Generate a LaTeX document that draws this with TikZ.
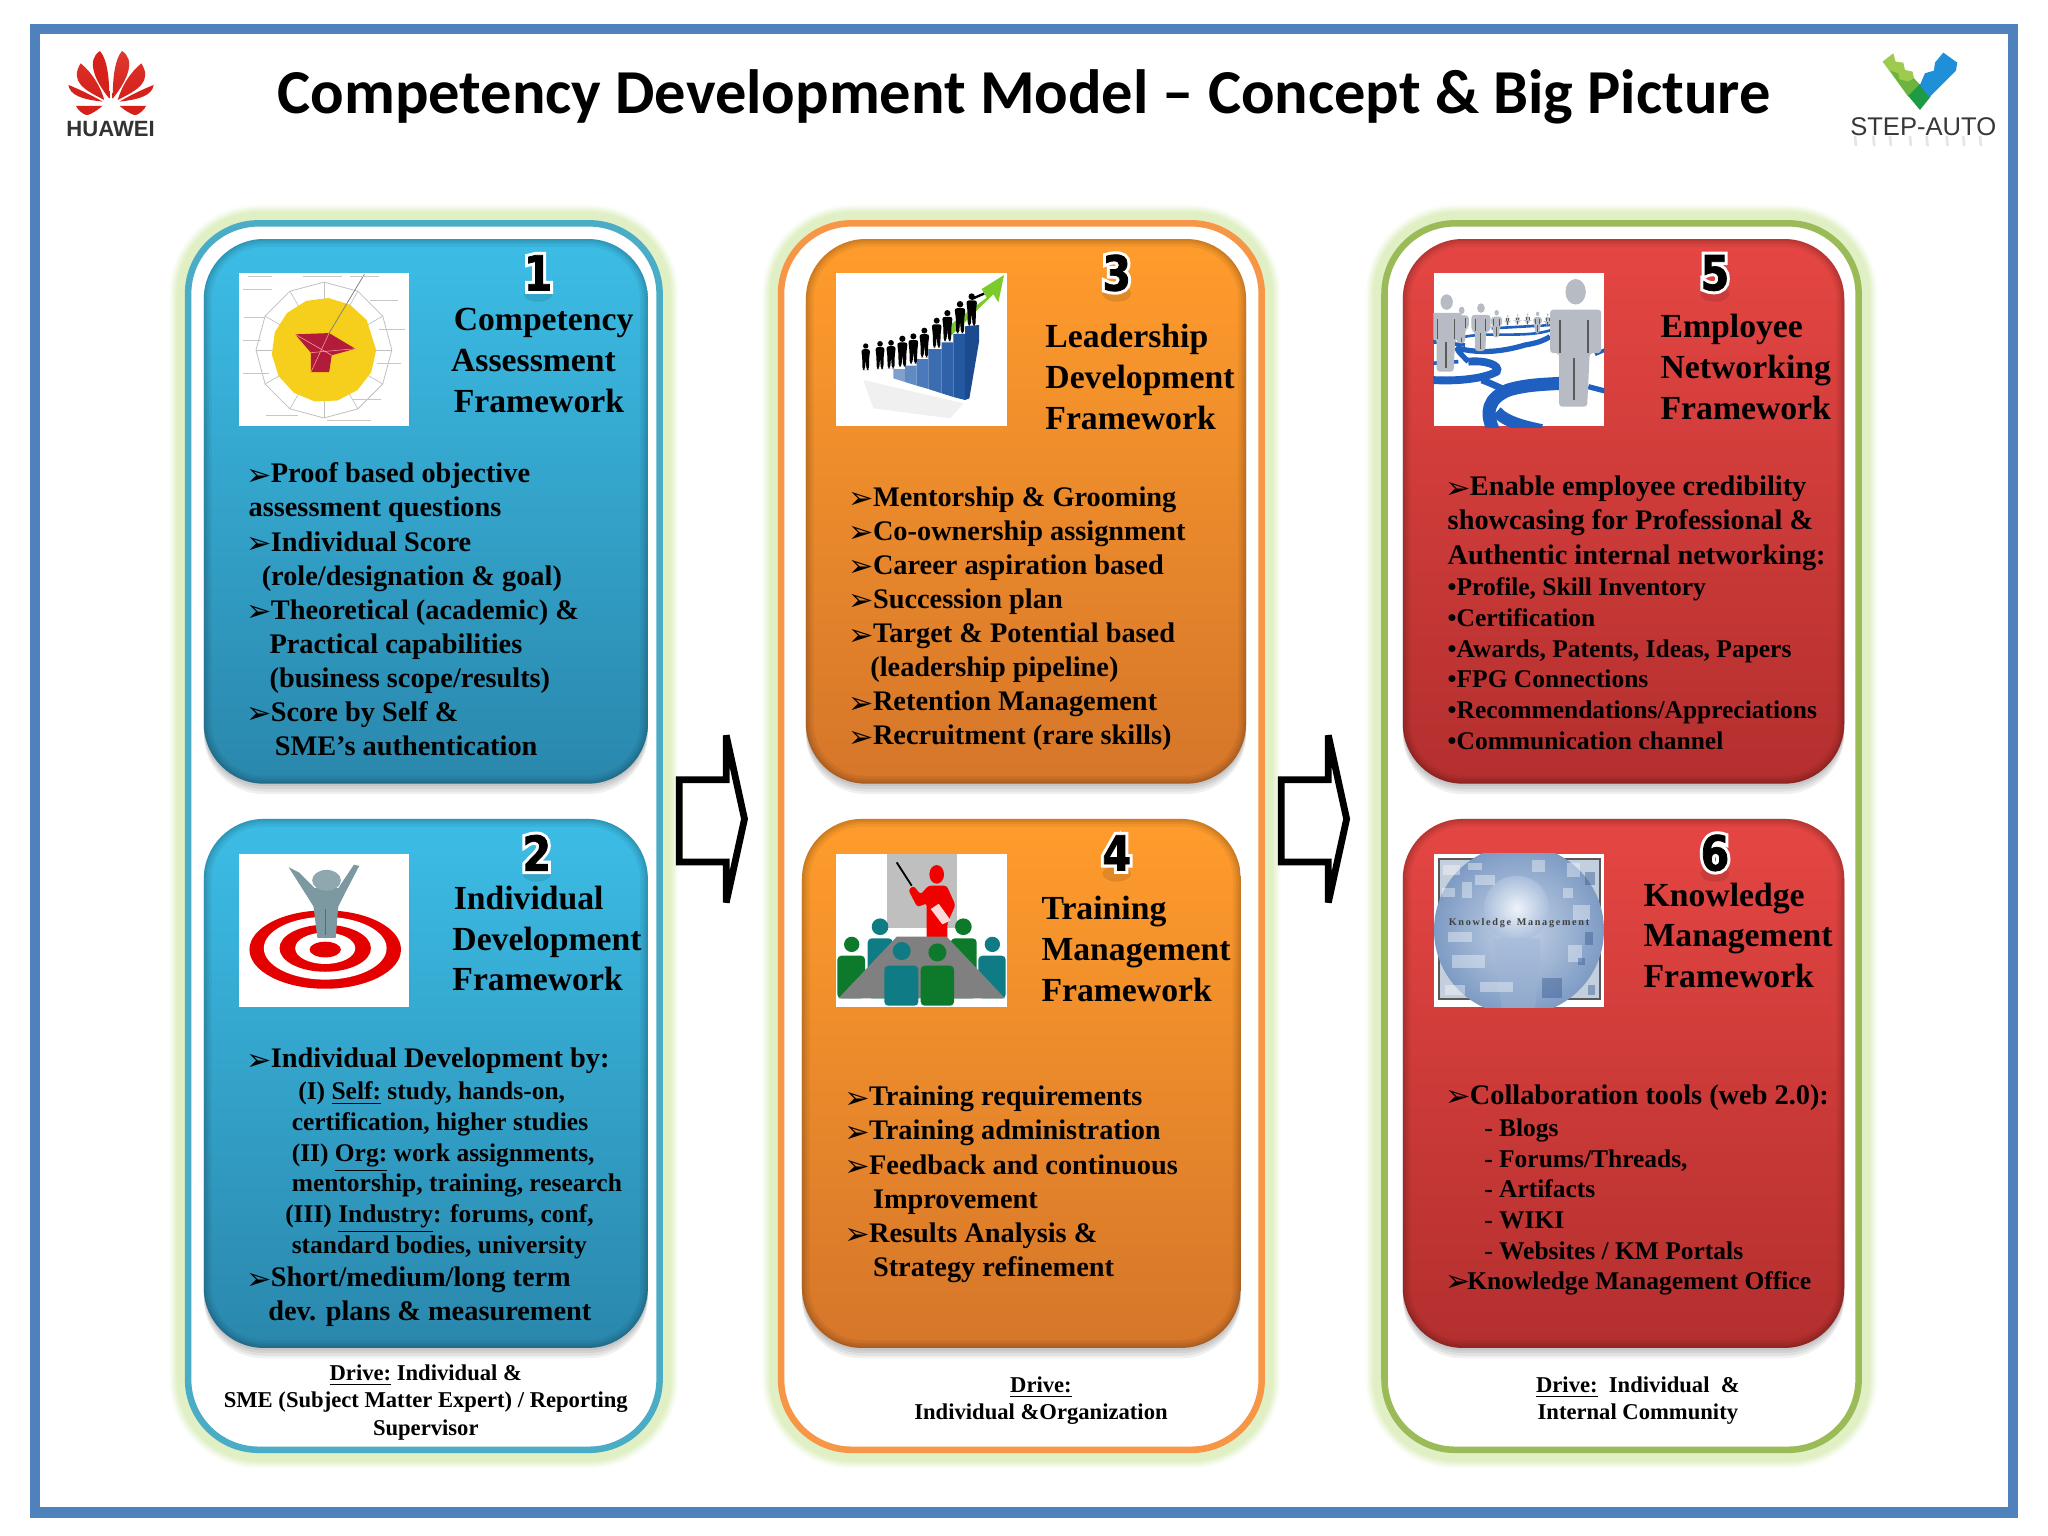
\documentclass[tikz,border=0pt]{standalone}
\usepackage{fontspec}
\setmainfont{Liberation Serif}
\newfontfamily\titlefont{Carlito}
\newfontfamily\sansf{Liberation Sans}
\newfontfamily\dvf{DejaVu Sans}
\newfontfamily\digf[FakeStretch=0.85]{DejaVu Sans}
\definecolor{framec}{HTML}{4F81BD}
\definecolor{pblue}{HTML}{4BACC6}
\definecolor{porange}{HTML}{F79646}
\definecolor{pgreen}{HTML}{9BBB59}
\definecolor{glowc}{HTML}{E0F0C4}
\definecolor{btop}{HTML}{3CBDE6}
\definecolor{bmid}{HTML}{37A3CB}
\definecolor{bbot}{HTML}{2A87AC}
\definecolor{otop}{HTML}{FF9C2C}
\definecolor{omid}{HTML}{F08F2C}
\definecolor{obot}{HTML}{D5762A}
\definecolor{rtop}{HTML}{E54643}
\definecolor{rmid}{HTML}{D23F3D}
\definecolor{rbot}{HTML}{B32F2E}
\definecolor{hred}{HTML}{D5201C}
\definecolor{hredl}{HTML}{EE6A50}
\definecolor{tealp}{HTML}{0F7C85}
\definecolor{greenp}{HTML}{0C7A2A}
\definecolor{netblue}{HTML}{1E5FC0}
\definecolor{mang}{HTML}{B7BBC4}
\definecolor{personc}{HTML}{7C98A0}
\definecolor{personl}{HTML}{8FA8AF}
\definecolor{radarc}{HTML}{F5CF1B}
\definecolor{starc}{HTML}{B01C3A}
\definecolor{arrowg}{HTML}{7CCB2E}
\definecolor{kmbg}{HTML}{C4CFDD}
\definecolor{kmin}{HTML}{C5D3E6}
\definecolor{kmout}{HTML}{7E9BC4}
\definecolor{kmhead}{HTML}{EEF3FA}
\definecolor{kmheadb}{HTML}{A9BEDB}
\definecolor{kmneck}{HTML}{8FA8CC}
\definecolor{kmdark}{HTML}{3A5C94}
\definecolor{stepl}{HTML}{9CCB4E}
\definecolor{stepm}{HTML}{6DB33F}
\definecolor{stepg}{HTML}{1E9A45}
\definecolor{stepb}{HTML}{1F8FD8}
\newcommand{\bigf}{\fontsize{10.85}{13.05}\selectfont}
\newcommand{\smallf}{\fontsize{9.75}{11.75}\selectfont}
\newcommand{\headf}{\fontsize{12.9}{15.6}\selectfont}
\newcommand{\drivef}{\fontsize{8.66}{10.5}\selectfont}
\newcommand{\topstrut}{\rule{0pt}{0.75em}}
\newcommand{\arrowglyph}{\hspace*{-1pt}\smash{\raisebox{-0.9pt}{\dvf\fontsize{11.6}{12}\selectfont ➢}}}
\newcommand{\bl}{\topstrut\makebox[8.5pt][l]{\arrowglyph}}
\newcommand{\ind}[1]{\hspace*{#1pt}}
\newcommand{\panelbox}[5]{%
  \foreach \w/\m in {29/10,27/22,25/38,23/55,21/72,19/88,17/100}{
    \draw[line width=\w*0.5pt,color=glowc!\m!white,rounded corners=27pt] (#1,#2) rectangle (#3,#4);
  }
  \fill[white,rounded corners=27pt] (#1,#2) rectangle (#3,#4);
  \draw[line width=2.5pt,color=#5,rounded corners=27pt] (#1,#2) rectangle (#3,#4);
}
\newcommand{\cardbox}[7]{%
  \foreach \d in {2,4,6,8}{
    \fill[black,opacity=.06,rounded corners=23pt] (#1,#2+\d) rectangle (#3,#4+\d);
  }
  \shade[rounded corners=23pt,top color=#5,middle color=#6,bottom color=#7] (#1,#2) rectangle (#3,#4);
  \begin{scope}
    \clip[rounded corners=23pt] (#1,#2) rectangle (#3,#4);
    \foreach \w in {6,4,2.5,1.2}{
      \draw[black,opacity=.05,line width=\w pt,rounded corners=23pt] (#1,#2) rectangle (#3,#4);
    }
  \end{scope}
}
\newcommand{\digit}[4]{%
  \fill[black,opacity=.10] (#2,#3+16) ellipse (11 and 6);
  \node[inner sep=0pt] (#1) at (#2,#3) {\digf\bfseries\fontsize{18.5}{19}\selectfont
    \rlap{\special{pdf:code q 2 Tr 2.6 w 1 1 1 RG}#4\special{pdf:code Q}}\special{pdf:code q 2 Tr 0.3 w 0 0 0 RG}#4\special{pdf:code Q}};
}
\newcommand{\silh}[3]{%
  \pgfmathsetmacro{\hh}{#3-#2}
  \fill[black] (#1,{#2+.1*\hh}) circle ({.1*\hh});
  \fill[black,rounded corners=1pt] ({#1-.17*\hh},{#2+.22*\hh}) -- ({#1+.17*\hh},{#2+.22*\hh}) -- ({#1+.13*\hh},{#2+.55*\hh}) -- ({#1+.12*\hh},#3) -- ({#1+.03*\hh},#3) -- (#1,{#2+.6*\hh}) -- ({#1-.03*\hh},#3) -- ({#1-.12*\hh},#3) -- ({#1-.13*\hh},{#2+.55*\hh}) -- cycle;
}
\newcommand{\gman}[3]{%
  \pgfmathsetmacro{\hh}{#3-#2}
  \fill[mang] (#1,{#2+.1*\hh}) ellipse ({.08*\hh} and {.1*\hh});
  \fill[mang,rounded corners=1.2pt] ({#1-.2*\hh},{#2+.24*\hh}) -- ({#1+.2*\hh},{#2+.24*\hh}) -- ({#1+.2*\hh},{#2+.58*\hh}) -- ({#1+.11*\hh},{#2+.58*\hh}) -- ({#1+.09*\hh},#3) -- ({#1-.13*\hh},#3) -- ({#1-.13*\hh},{#2+.58*\hh}) -- ({#1-.2*\hh},{#2+.58*\hh}) -- cycle;
  \draw[black!65,line width=.0016*\hh*1pt+.15pt] ({#1-.12*\hh},{#2+.32*\hh}) -- ({#1-.12*\hh},{#2+.58*\hh}) ({#1+.1*\hh},{#2+.32*\hh}) -- ({#1+.1*\hh},{#2+.58*\hh}) ({#1-.01*\hh},{#2+.62*\hh}) -- ({#1-.01*\hh},{#2+.95*\hh});
}
\tikzset{
  iconz/.style={x=0.1276pt,y=-0.1276pt},
  txt/.style={inner sep=0pt,anchor=north west,align=left,font=\bfseries},
  headtxt/.style={txt,font=\headf\bfseries},
  bigtxt/.style={txt,font=\bigf\bfseries},
  smalltxt/.style={txt,font=\smallf\bfseries},
  drivetxt/.style={inner sep=0pt,anchor=north,align=center,font=\drivef\bfseries},
  imgbox/.style={fill=white,draw=none},
  blockarrow/.style={draw=black,fill=white,line width=2.6pt,miter limit=2}
}
\begin{document}
\begin{tikzpicture}[x=0.5pt,y=-0.5pt]
\useasboundingbox (0,0) rectangle (1568,1176);
\fill[white] (0,0) rectangle (1568,1176);
% frame
\draw[framec,line width=4pt] (27,22) rectangle (1541,1158);
% title
\node[inner sep=0pt] (title) at (784,74) {\titlefont\bfseries\fontsize{23.93}{27}\selectfont Competency Development Model – Concept \& Big Picture};
% Huawei logo
\begin{scope}[shift={(38.3,30.6)},iconz]
  \foreach \sx/\sh in {1/100,-1/65}{
    \begin{scope}[xshift=183*0.1276pt,xscale=\sx]
      \shade[top color=hred!\sh!hredl,bottom color=hred] (-5,176) .. controls (-50,120) and (-75,60) .. (-33,33) .. controls (-10,60) and (-5,120) .. (-5,176) -- cycle;
      \shade[top color=hred!80!hredl,bottom color=hred] (-20,180) .. controls (-80,150) and (-125,125) .. (-91,70) .. controls (-55,100) and (-32,140) .. (-20,180) -- cycle;
      \fill[hred] (-25,185) .. controls (-90,178) and (-123,165) .. (-128,135) .. controls (-90,150) and (-55,168) .. (-25,185) -- cycle;
      \fill[hred] (-105,198) -- (-26,198) .. controls (-45,215) and (-70,228) .. (-75,225) .. controls (-85,222) and (-100,210) .. (-105,198) -- cycle;
    \end{scope}
  }
\end{scope}
\node[inner sep=0pt,text=black!80] (huawei) at (84.7,99) {\sansf\bfseries\fontsize{8.45}{10}\selectfont HUAWEI};
% Step-auto logo
\begin{scope}[shift={(1408.7,30.6)},iconz]
  \fill[stepl] (128,65) -- (160,40) -- (167,65) -- (190,68) -- (195,90) -- (218,95) -- (222,115) -- (240,135) -- (205,170) -- cycle;
  \fill[stepm] (150,92) -- (175,100) -- (178,118) -- (205,125) -- (222,115) -- (240,135) -- (205,170) -- cycle;
  \fill[stepg] (205,168) -- (240,132) -- (272,170) -- (240,210) -- cycle;
  \fill[stepb] (240,135) -- (255,100) -- (282,92) -- (285,68) -- (310,38) -- (352,68) -- (348,92) -- (268,172) -- cycle;
  \foreach \x in {45,100,150,210,260,320,370,420}{
    \draw[black!10,line width=1pt] (\x,288) -- (\x+3,318);
  }
\end{scope}
\node[inner sep=0pt,text=black!78] (stepauto) at (1472.5,97) {\sansf\fontsize{9.8}{12}\selectfont STEP-AUTO};
% panels
\panelbox{144}{171}{505}{1110}{pblue}
\panelbox{598}{171}{966}{1110}{porange}
\panelbox{1060}{171}{1423}{1110}{pgreen}
% cards
\cardbox{156}{183}{496}{600}{btop}{bmid}{bbot}
\cardbox{156}{627}{496}{1032}{btop}{bmid}{bbot}
\cardbox{617}{183}{954}{600}{otop}{omid}{obot}
\cardbox{614}{627}{950}{1032}{otop}{omid}{obot}
\cardbox{1074}{183}{1412}{600}{rtop}{rmid}{rbot}
\cardbox{1074}{627}{1412}{1032}{rtop}{rmid}{rbot}
% block arrows
\draw[blockarrow] (520,597) -- (556,597) -- (556,563) -- (570,627) -- (556,691) -- (556,660) -- (520,660) -- cycle;
\draw[blockarrow] (981,597) -- (1017,597) -- (1017,563) -- (1031,627) -- (1017,691) -- (1017,660) -- (981,660) -- cycle;
% image 1: radar
\fill[imgbox] (183,209) rectangle (313,326);
\begin{scope}[shift={(248,268)}]
  \foreach \a in {0,30,...,330}{
    \draw[black!25,line width=.25pt] (0,0) -- (\a:52);
  }
  \draw[black!25,line width=.3pt] (0:52) -- (30:52) -- (60:52) -- (90:52) -- (120:52) -- (150:52) -- (180:52) -- (210:52) -- (240:52) -- (270:52) -- (300:52) -- (330:52) -- cycle;
  \fill[radarc] (0:40) -- (25:40) -- (50:40) -- (75:40) -- (100:40) -- (125:40) -- (150:40) -- (175:40) -- (200:40) -- (225:40) -- (250:40) -- (275:40) -- (300:40) -- (325:40) -- cycle;
  \fill[starc] (-22,-12) -- (4,-13) -- (24,-1) -- (6,4) -- (4,17) -- (-10,17) -- (-10,2) -- cycle;
  \draw[red!35!white,line width=.2pt] (-22,-12) -- (6,4) (4,-13) -- (-10,17) (24,-1) -- (-10,2);
  \draw[black!50,line width=.3pt] (4,-13) -- (31,-58);
\end{scope}
\foreach \x/\y/\l in {186/222/22,187/243/16,186/261/14,186/286/20,204/318/24,250/322/34,270/306/22,289/278/18,290/252/20,283/230/22,232/212/30,190/212/18,268/212/22}{
  \draw[black!22,line width=.4pt] (\x,\y) -- (\x+\l,\y);
}
% image 2: target
\fill[imgbox] (183,654) rectangle (313,771);
\begin{scope}[shift={(249,727)}]
  \fill[red!90!black] (0,0) ellipse (58 and 30);
  \fill[white] (0,-1) ellipse (47 and 24);
  \fill[red!90!black] (0,-1) ellipse (35 and 18);
  \fill[white] (0,-1) ellipse (23 and 12);
  \fill[red!90!black] (0,0) ellipse (12 and 6);
\end{scope}
\begin{scope}[shift={(183,654)}]
  \fill[personc] (38,10) -- (46,14) -- (58,26) -- (76,26) -- (88,8) -- (92,9) -- (80,32) -- (76,40) -- (74,64) -- (60,64) -- (57,40) -- (52,32) -- cycle;
  \fill[personl] (67,20) ellipse (11 and 8);
  \draw[black!60,line width=.3pt] (66,42) -- (66,62);
\end{scope}
% image 3: staircase
\fill[imgbox] (640,209) rectangle (771,326);
\begin{scope}[shift={(635.5,202.9)},iconz]
  \fill[black!6] (100,345) -- (400,415) -- (360,460) -- (130,430) -- cycle;
  \fill[arrowg] (340,195) -- (470,98) -- (455,72) -- (522,30) -- (505,112) -- (490,88) -- (360,215) -- cycle;
  \foreach \xa/\xb/\yt/\ya/\yb/\cc in {190/225/312/340/351/7FA0CC,225/260/302/351/362/5F8BC3,260/295/282/362/372/4A7ABB,295/335/252/372/385/3B6DB0,335/370/232/385/396/2F62A8,370/405/207/396/405/2458A0}{
    \definecolor{barc}{HTML}{\cc}
    \fill[barc] (\xa,\yt) -- (\xb,\yt) -- (\xb,\yb) -- (\xa,\ya) -- cycle;
  }
  \definecolor{barc}{HTML}{1B4A8E}
  \fill[barc] (405,184) -- (447,180) -- (447,230) -- (418,400) -- (405,405) -- cycle;
  \foreach \px/\yt/\yb in {107/235/315,150/228/312,183/225/310,217/212/305,250/205/296,283/188/277,320/158/248,352/135/228,390/108/205,425/85/182}{
    \silh{\px}{\yt}{\yb}
  }
  \draw[black,line width=.9pt] (425,102) -- (462,86);
\end{scope}
% image 4: classroom
\fill[imgbox] (640,654) rectangle (771,771);
\begin{scope}[shift={(635.5,647)},iconz]
  \fill[black!25] (170,28) rectangle (380,250);
  \draw[black,line width=.7pt] (200,52) -- (245,122);
  \fill[red!95!black] (320,88) ellipse (22 and 28);
  \fill[red!95!black,rounded corners=1pt] (295,122) -- (350,122) -- (376,180) -- (352,235) -- (352,285) -- (290,285) -- (290,175) -- (262,186) -- (235,135) -- (250,122) -- (272,148) -- cycle;
  \fill[red!15!white] (302,192) -- (326,176) -- (362,226) -- (337,238) -- cycle;
  \foreach \cx/\cy/\hr/\xl/\xr/\yt/\cc in {150/245/25/113/188/280/tealp,400/245/25/362/440/280/greenp,65/298/23/22/105/332/greenp,487/298/23/445/527/332/tealp}{
    \fill[\cc] (\cx,\cy) circle (\hr);
    \fill[\cc,rounded corners=1.5pt] (\xl,\yt) rectangle (\xr,460);
  }
  \fill[black!50] (200,275) -- (350,275) -- (525,460) -- (25,460) -- cycle;
  \foreach \cx/\cy/\hr/\xl/\xr/\yt/\cc in {215/318/27/163/265/362/tealp,322/322/27/272/372/362/greenp}{
    \fill[\cc] (\cx,\cy) circle (\hr);
    \fill[\cc,rounded corners=1.5pt] (\xl,\yt) rectangle (\xr,482);
  }
\end{scope}
% image 5: network
\fill[imgbox] (1098,209) rectangle (1228,326);
\begin{scope}[shift={(1091,202.9)},iconz]
  \clip (25,22) rectangle (538,487);
  \draw[netblue,line width=5pt] (205,495) .. controls (180,440) and (190,400) .. (250,375) .. controls (300,360) and (350,358) .. (410,355);
  \draw[netblue,line width=4.5pt] (215,440) .. controls (240,470) and (300,485) .. (350,495);
  \draw[netblue,line width=3pt] (20,345) .. controls (100,350) and (180,340) .. (215,320) .. controls (228,300) and (180,285) .. (130,290);
  \draw[netblue,line width=2.6pt] (170,345) .. controls (200,355) and (225,370) .. (250,378);
  \draw[netblue,line width=2pt] (130,290) .. controls (110,270) and (90,250) .. (100,250) .. controls (170,268) and (240,258) .. (300,240) .. controls (330,235) and (350,230) .. (375,215);
  \draw[netblue,line width=2pt] (490,365) -- (540,378);
  \draw[netblue,line width=1.4pt] (20,295) -- (100,290) (510,268) -- (540,255) (20,230) -- (120,240);
  \draw[netblue,line width=1pt] (120,215) .. controls (200,200) and (300,220) .. (380,195) (200,190) -- (380,180);
  \foreach \px/\yt/\yb in {368/145/185,338/140/205,308/145/180,278/147/180,248/150/180,215/135/218,110/125/235,168/115/258,65/88/320,452/42/425}{
    \gman{\px}{\yt}{\yb}
  }
\end{scope}
% image 6: knowledge
\fill[imgbox] (1098,654) rectangle (1228,771);
\begin{scope}[shift={(1091,647)},iconz]
  \fill[kmbg] (42,42) rectangle (525,462);
  \draw[black!65,line width=1pt] (42,42) rectangle (525,462);
  \begin{scope}
    \clip (25,25) rectangle (538,487);
    \shade[inner color=kmin,outer color=kmout] (282,255) circle (255);
    \shade[inner color=kmhead,outer color=kmheadb] (275,190) circle (98);
    \shade[top color=kmheadb,bottom color=kmneck] (205,280) -- (345,280) -- (345,350) -- (330,490) -- (230,490) -- cycle;
    \foreach \x/\y/\ww/\hh in {55/60/50/30,130/55/40/20,320/45/40/35,425/55/40/40,150/90/60/30,50/130/40/25,110/110/30/50,415/130/30/30,445/180/50/45,70/260/70/30,80/330/100/40,430/300/40/50,60/420/60/30,165/410/100/30}{
      \fill[white,opacity=.38] (\x,\y) rectangle ++(\ww,\hh);
    }
    \foreach \x/\y/\ww/\hh in {480/260/25/40,350/400/60/60,480/80/30/40,490/420/20/30,460/340/20/20}{
      \fill[kmdark,opacity=.45] (\x,\y) rectangle ++(\ww,\hh);
    }
  \end{scope}
\end{scope}
\node[inner sep=0pt,text=black!75] (kmtext) at (1163,707) {\bfseries\fontsize{3.9}{4.5}\selectfont K\,n\,o\,w\,l\,e\,d\,g\,e\;\;M\,a\,n\,a\,g\,e\,m\,e\,n\,t};
% digits
\digit{n1}{412}{209}{1}
\digit{n2}{411}{653}{2}
\digit{n3}{855}{209}{3}
\digit{n4}{855}{653}{4}
\digit{n5}{1313}{209}{5}
\digit{n6}{1313}{653}{6}
% headings
\node[headtxt] (h1) at (345,233.5) {\topstrut\ind{1}Competency\\Assessment\\\ind{1}Framework};
\node[headtxt] (h2) at (346,676.5) {\topstrut\ind{0.5}Individual\\Development\\Framework};
\node[headtxt] (h3) at (800,246.5) {\topstrut Leadership\\Development\\Framework};
\node[headtxt] (h4) at (797,684.5) {\topstrut Training\\Management\\Framework};
\node[headtxt] (h5) at (1271,239) {\topstrut Employee\\Networking\\Framework};
\node[headtxt] (h6) at (1258,674) {\topstrut Knowledge\\Management\\Framework};
% card bodies
\node[bigtxt] (b1) at (190,353) {\bl Proof based objective\\
assessment questions\\
\bl Individual Score\\
\ind{5}(role/designation \& goal)\\
\bl Theoretical (academic) \&\\
\ind{8}Practical capabilities\\
\ind{8}(business scope/results)\\
\bl Score by Self \&\\
\ind{10}SME’s authentication};
\node[bigtxt] (b2a) at (190,801) {\bl Individual Development by:};
\node[smalltxt] (b2b) at (218,827) {\topstrut\ind{5}(I) \underline{Self:} study, hands-on,\\
\ind{2.5}certification, higher studies\\
\ind{2.5}(II) \underline{Org:} work assignments,\\
\ind{2.5}mentorship, training, research\\
(III) \underline{Industry}: forums, conf,\\
\ind{2.5}standard bodies, university};
\node[bigtxt] (b2c) at (190,968.5) {\bl Short/medium/long term\\
\ind{7.5}dev. plans \& measurement};
\node[bigtxt] (b3) at (651,371) {\bl Mentorship \& Grooming\\
\bl Co-ownership assignment\\
\bl Career aspiration based\\
\bl Succession plan\\
\bl Target \& Potential based\\
\ind{7.5}(leadership pipeline)\\
\bl Retention Management\\
\bl Recruitment (rare skills)};
\node[bigtxt] (b4) at (648,830) {\bl Training requirements\\
\bl Training administration\\
\bl Feedback and continuous\\
\ind{10}Improvement\\
\bl Results Analysis \&\\
\ind{10}Strategy refinement};
\node[bigtxt] (b5a) at (1108,363) {\bl Enable employee credibility\\
showcasing for Professional \&\\
Authentic internal networking:};
\node[smalltxt] (b5b) at (1108,441) {\topstrut•Profile, Skill Inventory\\
•Certification\\
•Awards, Patents, Ideas, Papers\\
•FPG Connections\\
•Recommendations/Appreciations\\
•Communication channel};
\node[bigtxt] (b6a) at (1108,829) {\bl Collaboration tools (web 2.0):};
\node[smalltxt] (b6b) at (1136,855) {\topstrut- Blogs\\
- Forums/Threads,\\
- Artifacts\\
- WIKI\\
- Websites / KM Portals};
\node[smalltxt] (b6c) at (1108,972) {\topstrut\makebox[7.5pt][l]{\arrowglyph}Knowledge Management Office};
% drive notes
\node[drivetxt] (d1) at (326,1043.5) {\topstrut\underline{Drive:} Individual \&\\SME (Subject Matter Expert) / Reporting\\Supervisor};
\node[drivetxt] (d2) at (797,1052.5) {\topstrut\underline{Drive:}\\Individual \&Organization};
\node[drivetxt] (d3) at (1254,1052.5) {\topstrut\underline{Drive:}\ \ Individual\ \ \&\\Internal Community};
\end{tikzpicture}
\end{document}
